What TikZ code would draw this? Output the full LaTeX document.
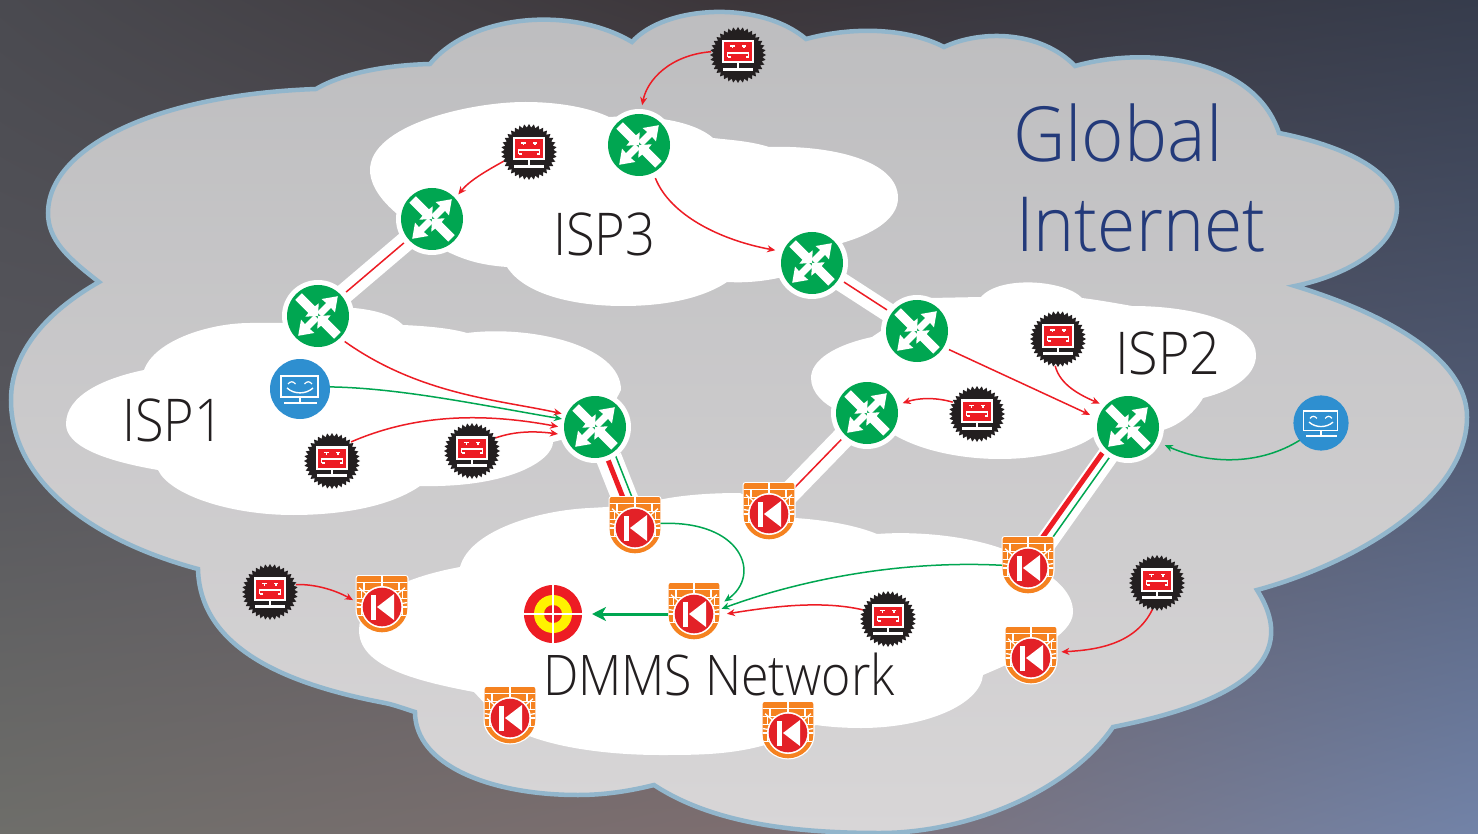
\documentclass[tikz,border=0pt]{standalone}
\usepackage{fontspec}
\setmainfont{Open Sans Light}
\usetikzlibrary{arrows.meta,shadings}
\definecolor{rgreen}{HTML}{00A651}
\definecolor{bred}{HTML}{ED1C24}
\definecolor{fred}{HTML}{E32127}
\definecolor{bblack}{HTML}{231F20}
\definecolor{bblue}{HTML}{2E8FD0}
\definecolor{forange}{HTML}{F58220}
\definecolor{tyellow}{HTML}{FFF200}
\definecolor{gnavy}{HTML}{233A7A}
\definecolor{edgeblue}{HTML}{92B6CC}
\definecolor{bgA}{RGB}{74,74,80}
\definecolor{bgB}{RGB}{60,54,58}
\definecolor{bgC}{RGB}{54,60,76}
\definecolor{bgD}{RGB}{86,86,92}
\definecolor{bgE}{RGB}{92,86,96}
\definecolor{bgF}{RGB}{80,90,115}
\definecolor{bgG}{RGB}{110,110,106}
\definecolor{bgH}{RGB}{125,110,112}
\definecolor{bgI}{RGB}{114,131,168}
\definecolor{cloudtop}{RGB}{189,189,191}
\definecolor{cloudbot}{RGB}{216,214,215}
\tikzset{
  routerspot/.style={circle,minimum size=64pt,inner sep=0pt,outer sep=0pt},
  botspot/.style={circle,minimum size=54pt,inner sep=0pt,outer sep=0pt},
  wallspot/.style={circle,minimum size=52pt,inner sep=0pt,outer sep=0pt},
  facespot/.style={circle,minimum size=#1,inner sep=0pt,outer sep=0pt},
  band/.style={white,line width=#1},
  redflow/.style={draw=bred,line width=1.5pt,-{Stealth[length=8pt,width=7pt,inset=2.5pt]}},
  greenflow/.style={draw=rgreen,line width=1.5pt,-{Stealth[length=8pt,width=7pt,inset=2.5pt]}},
  redwire/.style={draw=bred,line width=1.5pt},
  fatred/.style={draw=bred,line width=5pt},
  greenwire/.style={draw=rgreen,line width=1.5pt},
  lbl/.style={anchor=base west,inner sep=0pt,outer sep=0pt,text=bblack},
  routerglyph/.pic={
    \fill[white] (0,0) circle (36);
    \fill[rgreen] (0,0) circle (31);
    \foreach \a in {45,225}
      \fill[white,rotate=\a] (2,-3.4) -- (15,-3.4) -- (14.5,-9.5) -- (28,0) -- (14.5,9.5) -- (15,3.4) -- (2,3.4) -- cycle;
    \foreach \a in {135,-45}
      \fill[white,rotate=\a] (27.5,-4.6) -- (9,-4.6) -- (8.5,-9.5) -- (0,0) -- (8.5,9.5) -- (9,4.6) -- (27.5,4.6) -- cycle;
  },
  botglyph/.pic={
    \fill[bblack] plot[samples at={0,...,71}] ({\x*5}:{ifthenelse(mod(\x,2)==0,28,24.5)}) -- cycle;
    \fill[white] (-16,-15) rectangle (16,8.5);
    \fill[bred] (-14,-12.5) rectangle (14,6.5);
    \fill[white] (-1,8) rectangle (1,13);
    \fill[white] (-15.5,13) rectangle (15,15.7);
    \fill[white] (-8,-9.5) rectangle (-3.5,-8);
    \fill[white] (3.5,-9.5) rectangle (8,-8);
    \fill[white] (-6.5,-8) rectangle (-5,-6.5);
    \fill[white] (5,-8) rectangle (6.5,-6.5);
    \draw[white,line width=1.3pt] (-10.5,2) -- (-10.5,-2) -- (10.5,-2) -- (10.5,2);
    \draw[white,line width=1.3pt] (-10.5,2) -- (-7.5,2);
    \draw[white,line width=1.3pt] (10.5,2) -- (7.5,2);
  },
  faceglyph/.pic={
    \fill[bblue] (0,0) circle (30);
    \draw[white,line width=1.3pt] (-19,-13) rectangle (18,8);
    \draw[white,line width=1.3pt] (0,8) -- (0,14);
    \draw[white,line width=1.3pt] (-16,14) -- (17,14);
    \draw[white,line width=1.4pt] (-13,-1) .. controls (-6,5.5) and (6,5.5) .. (13,-1);
    \draw[white,line width=1.2pt] (-12,-5) .. controls (-9.5,-8) and (-7,-8) .. (-4.5,-5);
    \draw[white,line width=1.2pt] (4.5,-5) .. controls (7,-8) and (9.5,-8) .. (12,-5);
  },
  wallglyph/.pic={
    \fill[white,rounded corners=3pt] (-26.5,-32) -- (26.5,-32) -- (26.5,0) arc[start angle=0,end angle=180,radius=26.5] -- cycle;
    \begin{scope}
      \clip[rounded corners=2pt] (-25.3,-31) -- (25.3,-31) -- (25.3,0) arc[start angle=0,end angle=180,radius=25.3] -- cycle;
      \fill[forange] (-27,-33) rectangle (27,27);
      \foreach \h in {-24.3,-16.7,-8.5,0,8.5}
        \draw[white,line width=1.3pt] (-27,\h) -- (27,\h);
      \draw[white,line width=1.3pt] (0,-31) -- (0,-24.3);
      \draw[white,line width=1.3pt] (-18,-24.3) -- (-18,-16.7);
      \draw[white,line width=1.3pt] (17,-24.3) -- (17,-16.7);
      \foreach \h in {-12.5,4}
      {
        \draw[white,line width=1.2pt] (-20.5,\h-4) -- (-20.5,\h+4);
        \draw[white,line width=1.2pt] (20.5,\h-4) -- (20.5,\h+4);
      }
      \foreach \a in {-90,-140,-40,-170,-10}
        \draw[white,line width=1.3pt] (0,0) -- (\a:30);
    \end{scope}
    \fill[white] (0,0) circle (21);
    \fill[fred] (0,0) circle (19.3);
    \fill[white] (-11,-12.5) rectangle (-6,12.5);
    \fill[white] (-5,0) -- (12,-13) -- (12,13) -- cycle;
  },
  targetglyph/.pic={
    \fill[bred] (0,0) circle (29);
    \fill[tyellow] (0,0) circle (19);
    \fill[bred] (0,0) circle (9);
    \draw[white,line width=1.4pt] (-30,0) -- (30,0);
    \draw[white,line width=1.4pt] (0,-30) -- (0,30);
  },
}
\begin{document}
\begin{tikzpicture}[x=1pt,y=-1pt]
\path[use as bounding box] (0,0) rectangle (1478,834);
\clip (0,0) rectangle (1478,834);
% backdrop
\shade[upper left=bgA,upper right=bgB,lower left=bgD,lower right=bgE] (-1,-1) rectangle (740,418);
\shade[upper left=bgB,upper right=bgC,lower left=bgE,lower right=bgF] (739,-1) rectangle (1479,418);
\shade[upper left=bgD,upper right=bgE,lower left=bgG,lower right=bgH] (-1,417) rectangle (740,835);
\shade[upper left=bgE,upper right=bgF,lower left=bgH,lower right=bgI] (739,417) rectangle (1479,835);
% global cloud
\path[draw=edgeblue,line width=4.5pt,line join=miter,miter limit=8,top color=cloudtop,bottom color=cloudbot]
  (99,282) .. controls (68,258) and (48,240) .. (48,213)
  .. controls (48,150) and (150,95) .. (316,89)
  .. controls (345,72) and (390,65) .. (430,64)
  .. controls (470,15) and (570,5) .. (632,42)
  .. controls (665,5) and (760,0) .. (806,39)
  .. controls (850,27) and (905,27) .. (944,47)
  .. controls (980,30) and (1040,30) .. (1075,66)
  .. controls (1150,45) and (1255,60) .. (1279,133)
  .. controls (1340,145) and (1397,170) .. (1397,207)
  .. controls (1397,250) and (1340,277) .. (1295,286)
  .. controls (1390,315) and (1467,360) .. (1467,417)
  .. controls (1467,500) and (1350,565) .. (1257,590)
  .. controls (1305,665) and (1225,705) .. (1113,727)
  .. controls (1070,790) and (970,833) .. (880,833)
  .. controls (800,833) and (715,825) .. (654,785)
  .. controls (630,791) and (605,795) .. (578,795)
  .. controls (490,795) and (415,765) .. (415,712)
  .. controls (405,709) and (395,705) .. (385,703)
  .. controls (290,685) and (200,650) .. (198,569)
  .. controls (90,540) and (11,480) .. (11,400)
  .. controls (11,350) and (50,310) .. (99,282)
  -- cycle;
% ISP3
\fill[white]
  (396,213) .. controls (375,195) and (370,180) .. (370,170)
  .. controls (370,125) and (470,102) .. (525,102)
  .. controls (560,102) and (590,108) .. (609,117)
  .. controls (640,115) and (690,118) .. (713,138)
  .. controls (730,140) and (750,141) .. (769,147)
  .. controls (830,145) and (898,160) .. (898,198)
  .. controls (898,220) and (870,235) .. (842,243)
  .. controls (830,265) and (780,285) .. (727,282)
  .. controls (700,300) and (660,306) .. (623,306)
  .. controls (575,306) and (525,295) .. (507,267)
  .. controls (480,265) and (465,260) .. (448,252)
  -- cycle;
% ISP1
\fill[white]
  (144,370) .. controls (155,340) and (210,323) .. (250,323)
  -- (283,323) -- (354,308)
  .. controls (375,310) and (393,315) .. (403,325)
  .. controls (425,326) and (450,328) .. (467,333)
  .. controls (530,325) and (621,345) .. (621,390)
  -- (600,430) -- (553,442)
  .. controls (553,460) and (510,488) .. (420,486)
  .. controls (385,510) and (330,515) .. (293,515)
  .. controls (230,515) and (170,495) .. (158,470)
  .. controls (100,460) and (66,445) .. (66,424)
  .. controls (66,395) and (105,378) .. (144,370)
  -- cycle;
% ISP2
\fill[white]
  (872,337) .. controls (835,345) and (811,360) .. (811,378)
  .. controls (811,393) and (825,405) .. (837,410)
  -- (880,425)
  .. controls (910,450) and (960,459) .. (1000,459)
  .. controls (1040,459) and (1075,450) .. (1093,437)
  -- (1163,430)
  .. controls (1180,425) and (1195,412) .. (1203,398)
  .. controls (1235,390) and (1256,375) .. (1256,355)
  .. controls (1256,325) and (1200,306) .. (1132,306)
  .. controls (1115,303) and (1098,300) .. (1082,298)
  .. controls (1065,280) and (1000,275) .. (981,297)
  -- (930,298)
  -- cycle;
% DMMS
\fill[white]
  (460,567) .. controls (470,530) and (540,510) .. (590,508)
  -- (640,505)
  .. controls (670,495) and (710,493) .. (740,493)
  -- (795,518)
  .. controls (825,520) and (855,525) .. (877,534)
  .. controls (930,530) and (1000,540) .. (1030,563)
  .. controls (1060,580) and (1073,595) .. (1073,612)
  .. controls (1073,635) and (1030,655) .. (983,675)
  .. controls (980,705) and (925,728) .. (861,728)
  .. controls (845,728) and (830,727) .. (816,725)
  -- (765,745)
  .. controls (730,755) and (695,755) .. (660,755)
  .. controls (600,755) and (530,745) .. (500,720)
  -- (474,692)
  .. controls (410,680) and (359,665) .. (359,630)
  .. controls (359,600) and (400,578) .. (460,567)
  -- cycle;
% named places
\foreach \n/\x/\y in {r1/639/145,r2/432/219,r3/318/316,r4/812/263,r5/917/331,r6/867/413,r7/1128/427,r8/595/427}
  \node[routerspot] (\n) at (\x,\y) {};
\foreach \n/\x/\y in {b1/738/55,b2/529/152,b3/332/461,b4/472/451,b5/1058/339,b6/977/414,b7/1157/583,b8/270/592,b9/888/619}
  \node[botspot] (\n) at (\x,\y) {};
\foreach \n/\x/\y in {w1/635/528,w2/769/514,w3/1028/568,w4/382/607,w5/694/614,w6/1031/658,w7/510/718,w8/788/733}
  \node[wallspot] (\n) at (\x,\y) {};
\node[facespot=60pt] (f1) at (300,389) {};
\node[facespot=55pt] (f2) at (1321,423) {};
\node[facespot=58pt] (t1) at (553,614) {};
% white links
\draw[band=20pt] (r2) -- (r3);
\draw[band=19pt] (r4) -- (r5);
\draw[band=26pt,transform canvas={shift={(2pt,-1pt)}}] (r8) -- (w1);
\draw[band=22pt] (r6) -- (w2);
\draw[band=21pt] (r7) -- (w3);
% flows inside the links
\draw[redwire,shorten <=5pt,shorten >=5pt] (r2) -- (r3);
\draw[redwire,shorten <=5pt,shorten >=5pt,transform canvas={shift={(1pt,1pt)}}] (r4) -- (r5);
\draw[redwire,shorten <=5pt,shorten >=5pt] (r6) -- (w2);
\draw[fatred,shorten <=3pt] (r8) -- (w1);
\draw[greenwire,shorten <=0pt,transform canvas={shift={(8pt,3pt)}}] (r8) -- (w1);
\draw[fatred,shorten <=4pt,transform canvas={shift={(-4.8pt,3.4pt)}}] (r7) -- (w3);
\draw[greenwire,shorten <=4pt,transform canvas={shift={(2pt,-1.4pt)}}] (r7) -- (w3);
% glyphs
\foreach \n in {r1,r2,r3,r4,r5,r6,r7,r8} \pic at (\n) {routerglyph};
\foreach \n in {b1,b2,b3,b4,b5,b6,b7,b8,b9} \pic at (\n) {botglyph};
\foreach \n in {w1,w2,w3,w4,w5,w6,w7,w8} \pic at (\n) {wallglyph};
\pic at (f1) {faceglyph};
\pic[scale=.92] at (f2) {faceglyph};
\pic at (t1) {targetglyph};
% curved flows
\draw[redflow,shorten >=8pt] (b1.173) .. controls (670,55) and (647,80) .. (r1.87);
\draw[redflow,shorten >=4pt] (b2.200) .. controls (488,170) and (470,180) .. (r2.42);
\draw[redflow,shorten <=5pt,shorten >=7pt] (r1.-63) .. controls (670,215) and (720,240) .. (r4.159);
\draw[redflow,shorten <=5pt,shorten >=4pt] (r3.-45) .. controls (420,395) and (500,400) .. (r8.157);
\draw[greenflow,shorten >=2pt] (f1.4) .. controls (400,388) and (480,405) .. (r8.166);
\draw[redflow,shorten >=5pt] (b3.45) .. controls (420,412) and (490,414) .. (r8.181);
\draw[redflow,shorten >=6pt] (b4.29) .. controls (515,431) and (535,431) .. (r8.194);
\draw[redflow,shorten <=5pt,shorten >=8pt] (r5.-31) -- (r7.164);
\draw[redflow,shorten >=5pt] (b5.-96) .. controls (1060,385) and (1080,395) .. (r7.138);
\draw[redflow,shorten >=5pt] (b6.154) .. controls (935,397) and (918,398) .. (r6.15);
\draw[greenflow,shorten >=9pt] (f2.219) .. controls (1260,465) and (1210,465) .. (r7.-27);
\draw[greenflow,shorten >=7pt] (w1.10) .. controls (742,520) and (762,575) .. (w5.19);
\draw[greenflow,shorten >=2pt] (w3.174) .. controls (900,560) and (800,580) .. (w5.10);
\draw[redflow,shorten >=7pt] (b9.160) .. controls (820,600) and (770,607) .. (w5.-2);
\draw[draw=rgreen,line width=3pt,-{Stealth[length=14pt,width=14pt,inset=4pt]},shorten >=10pt] (w5.180) -- (t1.0);
\draw[redflow,shorten >=4pt] (b8.16) .. controls (315,584) and (335,590) .. (w4.169);
\draw[redflow,shorten >=5pt] (b7.-100) .. controls (1135,645) and (1095,650) .. (w6.13);
% labels
\node[lbl,font=\fontsize{59}{59}\selectfont] (tisp3) at (553,256) {\scalebox{.89}[1]{ISP3}};
\node[lbl,font=\fontsize{59}{59}\selectfont] (tisp1) at (122,441) {\scalebox{.885}[1]{ISP1}};
\node[lbl,font=\fontsize{59}{59}\selectfont] (tisp2) at (1115,374) {\scalebox{.915}[1]{ISP2}};
\node[lbl,font=\fontsize{56}{56}\selectfont] (tdmms) at (543,695) {\scalebox{.895}[1]{DMMS Network}};
\node[lbl,text=gnavy,font=\fontsize{76}{76}\selectfont] (tglobal) at (1013,162) {\scalebox{.955}[1]{Global}};
\node[lbl,text=gnavy,font=\fontsize{76}{76}\selectfont] (tinternet) at (1016,252) {\scalebox{.915}[1]{Internet}};
\end{tikzpicture}
\end{document}
